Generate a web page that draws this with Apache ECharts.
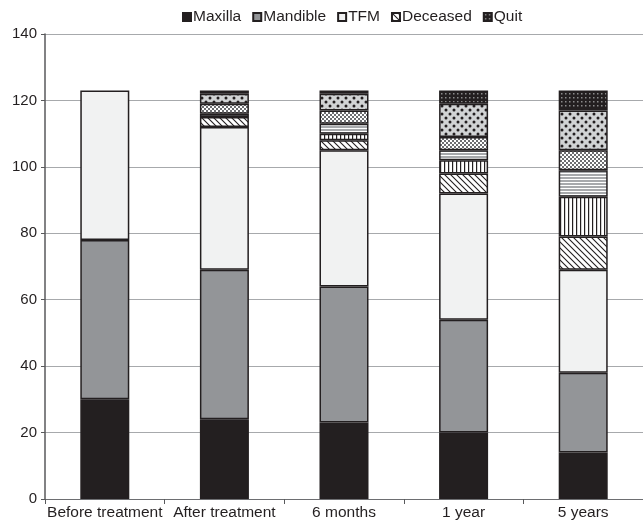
<!DOCTYPE html>
<html>
<head>
<meta charset="utf-8">
<script src="https://cdn.jsdelivr.net/npm/echarts@6/dist/echarts.min.js"></script>
<style>html,body{margin:0;padding:0;background:#fff;}#c{width:643px;height:524px;}</style>
</head>
<body>
<div id="c"></div>
<script>
const categories = ['Before treatment', 'After treatment', '6 months', '1 year', '5 years'];
const maxilla   = [30, 24, 23, 20, 14];
const mandible  = [48, 45, 41, 34, 24];
const tfm       = [45, 43, 41, 38, 31];
const deceased  = [0, 3, 3, 6, 10];
const vertical  = [0, 0, 2, 4, 12];
const horizontal= [0, 1, 3, 3, 8];
const checker   = [0, 3, 4, 4, 6];
const dots      = [0, 3, 5, 10, 12];
const quit      = [0, 1, 1, 4, 6];
const yTicks = [0, 20, 40, 60, 80, 100, 120, 140];

function pat(w, h, draw) {
  const c = document.createElement('canvas');
  c.width = w; c.height = h;
  const g = c.getContext('2d');
  draw(g, w, h);
  return { image: c, repeat: 'repeat' };
}
const INK = '#231f20';
const pDiag = pat(6, 6, (g, w, h) => {
  g.fillStyle = '#fff'; g.fillRect(0, 0, w, h);
  g.strokeStyle = INK; g.lineWidth = 1.1;
  g.beginPath();
  g.moveTo(-1, -1); g.lineTo(w + 1, h + 1);
  g.moveTo(-1, h - 1); g.lineTo(1, h + 1);
  g.moveTo(w - 1, -1); g.lineTo(w + 1, 1);
  g.stroke();
});
const pVert = pat(4, 4, (g, w, h) => {
  g.fillStyle = '#fff'; g.fillRect(0, 0, w, h);
  g.fillStyle = INK; g.fillRect(0, 0, 1.2, h);
});
const pHorz = pat(4, 3, (g, w, h) => {
  g.fillStyle = '#a7a9ac'; g.fillRect(0, 0, w, h);
  g.fillStyle = '#fff'; g.fillRect(0, 2, w, 1);
});
const pCheck = pat(4, 4, (g, w, h) => {
  g.fillStyle = '#fff'; g.fillRect(0, 0, w, h);
  g.fillStyle = '#6d6e71'; g.fillRect(0, 0, 2, 2); g.fillRect(2, 2, 2, 2);
});
const pDots = pat(8, 8, (g, w, h) => {
  g.fillStyle = '#d1d3d4'; g.fillRect(0, 0, w, h);
  g.fillStyle = INK;
  g.beginPath(); g.arc(2, 2, 1.5, 0, Math.PI * 2); g.fill();
  g.beginPath(); g.arc(6, 6, 1.5, 0, Math.PI * 2); g.fill();
});
const pQuit = pat(4, 4, (g, w, h) => {
  g.fillStyle = INK; g.fillRect(0, 0, w, h);
  g.fillStyle = '#8a8a8a'; g.fillRect(1, 1, 1.5, 1.5);
});

function s(name, data, color) {
  return {
    name, type: 'bar', stack: 'all', barWidth: 49,
    data: data.map(v => (v === 0 ? '-' : v)),
    itemStyle: { color, borderColor: INK, borderWidth: 1.5 },
    emphasis: { disabled: true }
  };
}

const FONT = 'Liberation Sans, Arial, Helvetica, sans-serif';
const chart = echarts.init(document.getElementById('c'), null, { renderer: 'canvas' });
chart.setOption({
  animation: false,
  backgroundColor: '#fff',
  textStyle: { fontFamily: FONT, color: INK },
  legend: {
    data: ['Maxilla', 'Mandible', 'TFM', 'Deceased', 'Quit'],
    left: 177, top: 4,
    itemWidth: 8, itemHeight: 8, itemGap: 11,
    icon: 'rect',
    textStyle: { fontSize: 15.5, color: INK, fontFamily: FONT, padding: [0, 0, 0, -3] }
  },
  grid: { left: 45, top: 34, width: 610, height: 465 },
  xAxis: {
    type: 'category', data: categories,
    axisLine: { lineStyle: { color: '#6d6e71', width: 1 } },
    axisTick: { show: true, length: 5, lineStyle: { color: '#58595b' } },
    axisLabel: { fontSize: 15.5, color: INK, fontFamily: FONT, margin: 6, interval: 0 }
  },
  yAxis: {
    type: 'value', min: yTicks[0], max: yTicks[yTicks.length - 1], interval: 20,
    axisLine: { show: true, lineStyle: { color: '#58595b', width: 1.5 } },
    axisTick: { show: true, length: 4, lineStyle: { color: '#58595b' } },
    axisLabel: { fontSize: 15, color: INK, fontFamily: FONT, margin: 8 },
    splitLine: { show: true, lineStyle: { color: '#a7a9ac', width: 1 } }
  },
  series: [
    s('Maxilla', maxilla, INK),
    s('Mandible', mandible, '#939598'),
    s('TFM', tfm, '#f1f2f2'),
    s('Deceased', deceased, pDiag),
    s('Vertical', vertical, pVert),
    s('Horizontal', horizontal, pHorz),
    s('Checker', checker, pCheck),
    s('Dots', dots, pDots),
    s('Quit', quit, pQuit)
  ]
});
</script>
</body>
</html>
